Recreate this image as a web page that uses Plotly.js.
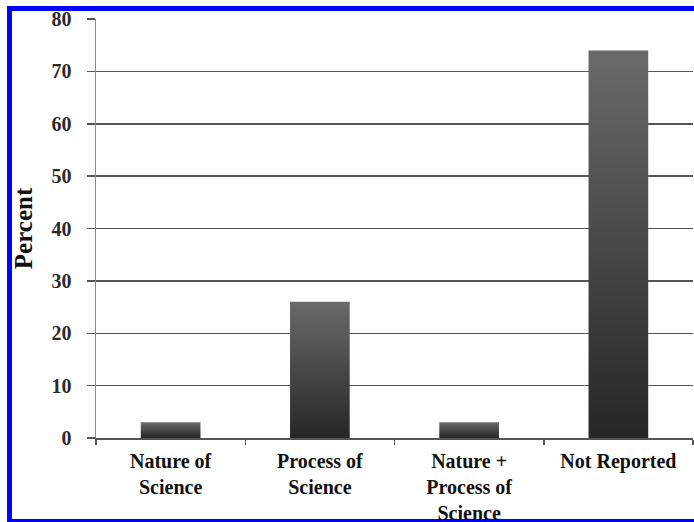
<!DOCTYPE html>
<html>
<head>
<meta charset="utf-8">
<script src="https://cdn.plot.ly/plotly-3.0.1.min.js"></script>
<style>
  html, body { margin: 0; padding: 0; background: #ffffff; width: 694px; height: 522px; overflow: hidden; }
  #frame { position: absolute; left: 7px; top: 6px; width: 682px; height: 508px; border-style: solid; border-color: #0000ff; border-width: 5px 0 5px 5px; }
  #chart { position: absolute; left: 0; top: 0; width: 694px; height: 522px; }
</style>
</head>
<body>
<div id="frame"></div>
<div id="chart"></div>
<script>
const categories = ["Nature of<br>Science", "Process of<br>Science", "Nature +<br>Process of<br>Science", "Not Reported"];
const percentValues = [3, 26, 3, 74];
const yTickValues = [0, 10, 20, 30, 40, 50, 60, 70, 80];

const trace = {
  type: "bar",
  x: categories,
  y: percentValues,
  width: 0.4,
  marker: { color: "#454545", line: { width: 0 } },
  hoverinfo: "x+y"
};

const layout = {
  width: 694,
  height: 522,
  margin: { l: 96, r: 1, t: 19, b: 84 },
  paper_bgcolor: "rgba(0,0,0,0)",
  plot_bgcolor: "rgba(0,0,0,0)",
  showlegend: false,
  bargap: 0.6,
  font: { family: "Liberation Serif, serif", color: "#1a1a1a" },
  xaxis: {
    type: "category",
    showline: true,
    linecolor: "#555555",
    linewidth: 1.5,
    ticks: "outside",
    tickson: "boundaries",
    ticklen: 5,
    tickcolor: "#555555",
    tickwidth: 1.5,
    showgrid: false,
    tickfont: { family: "Liberation Serif, serif", size: 20, color: "#111111", weight: "bold" },
    ticklabelstandoff: 4,
    fixedrange: true
  },
  yaxis: {
    range: [0, 80],
    tickvals: yTickValues,
    ticktext: yTickValues.map(String),
    showline: true,
    linecolor: "#8a8a8a",
    linewidth: 1.5,
    ticks: "outside",
    ticklen: 8,
    tickcolor: "#555555",
    tickwidth: 1.5,
    showgrid: true,
    gridcolor: "#555555",
    gridwidth: 1.5,
    zeroline: false,
    tickfont: { family: "Liberation Serif, serif", size: 20, color: "#2a2a2a", weight: "bold" },
    ticklabelstandoff: 11,
    title: { text: "Percent", font: { family: "Liberation Serif, serif", size: 25, color: "#111111", weight: "bold" }, standoff: 12 },
    fixedrange: true
  }
};

Plotly.newPlot("chart", [trace], layout, { displayModeBar: false, staticPlot: true }).then(function (gd) {
  const svg = gd.querySelector("svg.main-svg");
  const ns = "http://www.w3.org/2000/svg";
  let defs = svg.querySelector("defs");
  if (!defs) { defs = document.createElementNS(ns, "defs"); svg.insertBefore(defs, svg.firstChild); }
  const grad = document.createElementNS(ns, "linearGradient");
  grad.setAttribute("id", "barGrad");
  grad.setAttribute("x1", "0"); grad.setAttribute("y1", "0");
  grad.setAttribute("x2", "0"); grad.setAttribute("y2", "1");
  [["0", "#6a6a6a"], ["1", "#262626"]].forEach(function (s) {
    const stop = document.createElementNS(ns, "stop");
    stop.setAttribute("offset", s[0]);
    stop.setAttribute("stop-color", s[1]);
    grad.appendChild(stop);
  });
  defs.appendChild(grad);
  gd.querySelectorAll(".bars .point path").forEach(function (p) {
    p.style.fill = "url(#barGrad)";
  });
});
</script>
</body>
</html>
